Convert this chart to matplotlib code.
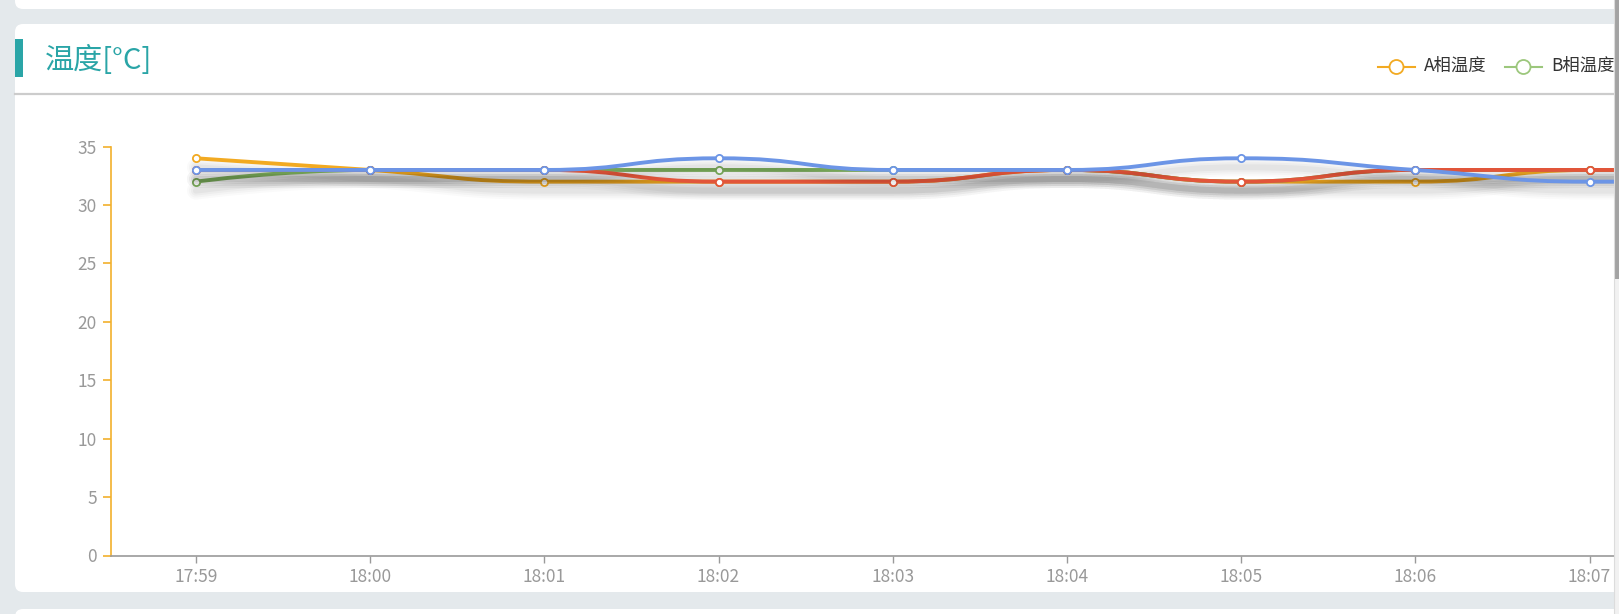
import matplotlib
matplotlib.use('Agg')
import matplotlib.pyplot as plt
import numpy as np
from matplotlib.path import Path
from matplotlib.patches import PathPatch, FancyBboxPatch, Rectangle, Circle
from matplotlib.lines import Line2D
from matplotlib.transforms import IdentityTransform, Affine2D

plt.rcParams['font.family'] = ['Noto Sans CJK SC', 'DejaVu Sans']

# data
times = ['17:59', '18:00', '18:01', '18:02', '18:03', '18:04', '18:05', '18:06', '18:07', '18:08']
temp_a = [34, 33, 32, 32, 32, 33, 32, 32, 33, 33]
temp_b = [32, 33, 33, 33, 33, 33, 32, 33, 33, 33]
temp_c = [33, 33, 33, 32, 32, 33, 32, 33, 33, 33]
temp_d = [33, 33, 33, 34, 33, 33, 34, 33, 32, 32]
y_ticks = [0, 5, 10, 15, 20, 25, 30, 35]

names = ['A相温度', 'B相温度', 'C相温度', 'D相温度']
colors = ['#f2aa22', '#7cad5c', '#e2553a', '#6c95e6']
title = '温度[°C]'
teal = '#2aa5a7'

W, H = 1619, 614
fig = plt.figure(figsize=(W / 100, H / 100), dpi=100, facecolor='#e4e9ec')
px = IdentityTransform()


def ypx(y):
    # pixel from top -> display y
    return H - y


# cards
def card(x0, y0, x1, y1):
    p = FancyBboxPatch((x0, ypx(y1)), x1 - x0, y1 - y0,
                       boxstyle='round,pad=0,rounding_size=8',
                       transform=px, facecolor='white', edgecolor='none', zorder=-5)
    fig.patches.append(p)


card(15, -30, 1660, 9)
card(15, 24, 1660, 592)
card(15, 609, 1660, 660)

# header
fig.patches.append(Rectangle((15, ypx(77)), 8, 38, transform=px, facecolor=teal,
                             edgecolor='none', zorder=-4))
fig.text(45, ypx(61), title, transform=px, fontsize=21, color=teal, va='center', ha='left')
fig.lines.append(Line2D([15, W], [ypx(94), ypx(94)], transform=px, color='#cccccc', lw=1.6,
                        zorder=-4))

# legend (only A and B are visible in the viewport)
for (x0, name, c) in [(1378, names[0], colors[0]), (1505, names[1], '#9cc77c')]:
    fig.lines.append(Line2D([x0, x0 + 37], [ypx(67), ypx(67)], transform=px, color=c, lw=1.5))
    fig.patches.append(Circle((x0 + 18.5, ypx(67)), 7, transform=px, facecolor='white',
                              edgecolor=c, lw=1.3, zorder=3))
    fig.text(x0 + 46, ypx(66), name, transform=px, fontsize=12.5, color='#333333',
             va='center', ha='left')

# axes
ax_l, ax_r, ax_t, ax_b = 110.5, 1614, 146.6, 555.5
ax = fig.add_axes([ax_l / W, 1 - ax_b / H, (ax_r - ax_l) / W, (ax_b - ax_t) / H])
ax.set_facecolor('none')
x = np.arange(len(times))
ax.set_xticks(x)
ax.set_xticklabels(times)
ax.set_yticks(y_ticks)
ax.set_xlim(-0.49, 8.14)
ax.set_ylim(0, 35)
for s in ['top', 'right']:
    ax.spines[s].set_visible(False)
ax.spines['left'].set_color('#f2b02c')
ax.spines['left'].set_linewidth(1.2)
ax.spines['bottom'].set_color('#9a9a9a')
ax.spines['bottom'].set_linewidth(1.2)
ax.tick_params(axis='y', direction='out', length=6, width=1.2, color='#f2b02c',
               labelcolor='#999999', labelsize=12.5, pad=4)
ax.tick_params(axis='x', direction='out', length=5, width=1, color='#9a9a9a',
               labelcolor='#999999', labelsize=12.5, pad=4)


def smooth_path(xs, ys, smooth=0.5):
    # echarts-like monotone-clamped bezier smoothing, computed in display space
    pts = ax.transData.transform(np.column_stack([xs, ys]))
    verts = [tuple(pts[0])]
    codes = [Path.MOVETO]
    n = len(pts)
    cp0 = pts[0].copy()
    for i in range(1, n):
        px_, py_ = pts[i - 1]
        x_, y_ = pts[i]
        if i == n - 1:
            cp1 = np.array([x_, y_])
            ncp0 = None
        else:
            nx, ny = pts[i + 1]
            vx, vy = nx - px_, ny - py_
            lp = np.hypot(x_ - px_, y_ - py_)
            ln = np.hypot(nx - x_, ny - y_)
            r = ln / (ln + lp)
            ncx = x_ + vx * smooth * r
            ncy = y_ + vy * smooth * r
            ncx = min(ncx, max(nx, x_)); ncy = min(ncy, max(ny, y_))
            ncx = max(ncx, min(nx, x_)); ncy = max(ncy, min(ny, y_))
            vx, vy = ncx - x_, ncy - y_
            c1x = x_ - vx * lp / ln
            c1y = y_ - vy * lp / ln
            c1x = min(c1x, max(px_, x_)); c1y = min(c1y, max(py_, y_))
            c1x = max(c1x, min(px_, x_)); c1y = max(c1y, min(py_, y_))
            cp1 = np.array([c1x, c1y])
            vx, vy = x_ - c1x, y_ - c1y
            ncp0 = np.array([x_ + vx * ln / lp, y_ + vy * ln / lp])
        verts += [tuple(cp0), tuple(cp1), (x_, y_)]
        codes += [Path.CURVE4] * 3
        cp0 = ncp0
    return Path(np.array(verts), codes)


series = [temp_a, temp_b, temp_c, temp_d]
for k, (vals, c) in enumerate(zip(series, colors)):
    path = smooth_path(x, vals)
    z = 3 + k * 3
    # soft shadow below the line
    for lw, al in [(18, 0.018), (14, 0.022), (10, 0.028), (6, 0.035)]:
        sh = PathPatch(path, transform=Affine2D().translate(0, -9), facecolor='none',
                       edgecolor='black', lw=lw * 0.72, alpha=al, zorder=z,
                       capstyle='round', joinstyle='round')
        ax.add_patch(sh)
        sh.set_clip_path(ax.patch)
    ln = PathPatch(path, transform=IdentityTransform(), facecolor='none', edgecolor=c,
                   lw=2.8, zorder=z + 1, capstyle='round', joinstyle='round')
    ax.add_patch(ln)
    ln.set_clip_path(ax.patch)
    ax.plot(x, vals, 'o', ms=5.2, mfc='white', mec=c, mew=1.3, zorder=z + 2, clip_on=True)

# scrollbar
fig.patches.append(Rectangle((1614, ypx(614)), 5, 614, transform=px, facecolor='#f1f1f1',
                             edgecolor='none', zorder=20))
fig.patches.append(Rectangle((1614, ypx(279)), 5, 279, transform=px, facecolor='#a3a3a3',
                             edgecolor='none', zorder=21))
fig.lines.append(Line2D([1614, 1614], [0, H], transform=px, color='#dcdcdc', lw=0.8, zorder=22))

fig.savefig('out.png', dpi=100, facecolor=fig.get_facecolor())
